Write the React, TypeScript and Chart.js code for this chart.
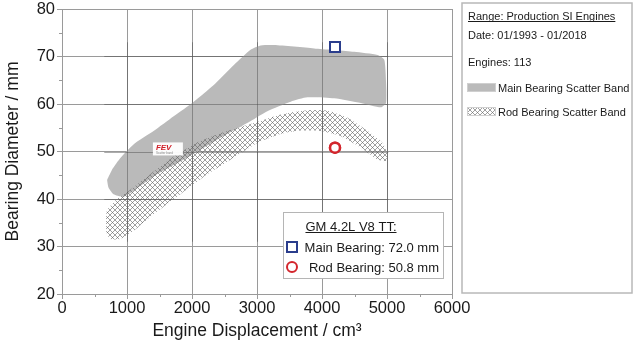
import React, { useEffect, useRef } from 'react';
import { Chart, registerables } from 'chart.js';

Chart.register(...registerables);

const FONT = '"Liberation Sans", Arial, Helvetica, sans-serif';

// ---- data ----
const xTicks = [0, 1000, 2000, 3000, 4000, 5000, 6000];
const yTicks = [20, 30, 40, 50, 60, 70, 80];
const xMinorTicks = [500, 1500, 2500, 3500, 4500, 5500];
const yMinorTicks = [25, 35, 45, 55, 65, 75];

// Main bearing scatter band: upper edge (left→right), lower edge (right→left)
const mainBandUpper: [number, number][] = [
  [694, 44.0], [780, 46.4], [895, 48.6], [1100, 51.5], [1409, 54.3], [1718, 57.4],
  [2026, 60.5], [2335, 64.0], [2644, 68.2], [2901, 71.4], [3056, 72.3], [3260, 72.4],
  [3880, 71.7], [4495, 71.0], [4856, 70.3], [4958, 69.3], [4985, 64.7], [4985, 60.2], [4907, 59.3],
];
const mainBandLower: [number, number][] = [
  [4599, 60.2], [4187, 61.2], [3776, 61.4], [3519, 60.5], [3159, 58.5], [2850, 56.0],
  [2438, 52.9], [1924, 48.7], [1461, 45.2], [1100, 41.7], [946, 40.5], [792, 41.0], [715, 42.4],
];

// Rod bearing scatter band
const rodBandUpper: [number, number][] = [
  [680, 33.0], [689, 37.5], [844, 40.0], [998, 41.4], [1358, 45.2], [1770, 49.4],
  [2130, 52.2], [2541, 54.3], [2952, 56.0], [3364, 57.8], [3776, 58.7], [4084, 58.6],
  [4393, 57.1], [4702, 54.3], [4933, 51.8], [4999, 49.7], [4985, 48.0],
];
const rodBandLower: [number, number][] = [
  [4856, 48.3], [4599, 50.8], [4290, 53.2], [3981, 54.3], [3673, 54.4], [3364, 53.7],
  [3004, 51.8], [2644, 48.7], [2233, 45.2], [1821, 41.0], [1409, 36.8], [1100, 33.3],
  [895, 31.6], [741, 31.6],
];

const engineDisplacement = 4200;
const mainBearingDiameter = 72.0;
const rodBearingDiameter = 50.8;
const logoAnchor: [number, number] = [1460, 51.7];

const xTitle = 'Engine Displacement / cm³';
const yTitle = 'Bearing Diameter / mm';
const infoLines = ['Range: Production SI Engines', 'Date: 01/1993 - 01/2018', 'Engines: 113'];
const bandLabels = ['Main Bearing Scatter Band', 'Rod Bearing Scatter Band'];
const insetTitle = 'GM 4.2L V8 TT:';
const insetLabels = ['Main Bearing: 72.0 mm', 'Rod Bearing: 50.8 mm'];

// ---- styles ----
const GRID = '#9a9a9a';
const GRID_OVER = 'rgba(70,70,70,0.45)';
const TEXT = '#1a1a1a';
const BAND_GRAY = '#bababa';
const BLUE = '#2a3d8c';
const RED = '#d3262d';

function closed(upper: [number, number][], lower: [number, number][]) {
  const pts = [...upper, ...lower, upper[0]];
  return pts.map(([x, y]) => ({ x, y }));
}

function makeHatch(): CanvasPattern | string {
  const p = 5;
  const c = document.createElement('canvas');
  c.width = p; c.height = p;
  const g = c.getContext('2d');
  if (!g) return '#888';
  g.strokeStyle = 'rgba(95,95,95,0.75)';
  g.lineWidth = 0.8;
  g.beginPath();
  for (const k of [-p, 0, p]) {
    g.moveTo(-1 + k, -1); g.lineTo(p + 1 + k, p + 1);
    g.moveTo(-1 + k, p + 1); g.lineTo(p + 1 + k, -1);
  }
  g.stroke();
  const pat = g.createPattern(c, 'repeat');
  return pat || '#888';
}

function underline(ctx: CanvasRenderingContext2D, x1: number, x2: number, y: number, color: string) {
  ctx.save();
  ctx.strokeStyle = color;
  ctx.lineWidth = 1;
  ctx.beginPath();
  ctx.moveTo(x1, y + 0.5);
  ctx.lineTo(x2, y + 0.5);
  ctx.stroke();
  ctx.restore();
}

export default function App() {
  const ref = useRef<HTMLCanvasElement | null>(null);

  useEffect(() => {
    const canvas = ref.current;
    if (!canvas) return;
    const hatch = makeHatch();

    const overlay = {
      id: 'overlay',
      afterDraw(chart: any) {
        const ctx: CanvasRenderingContext2D = chart.ctx;
        const xs = chart.scales.x, ys = chart.scales.y;
        const area = chart.chartArea;

        // grid lines over the scatter bands (only inside the bands' extent)
        ctx.save();
        ctx.strokeStyle = GRID_OVER;
        ctx.lineWidth = 1;
        const bandTop = ys.getPixelForValue(73);
        const bandBottom = ys.getPixelForValue(31);
        const bandLeft = xs.getPixelForValue(650);
        const bandRight = xs.getPixelForValue(5020);
        ctx.beginPath();
        for (const v of xTicks) {
          const px = Math.round(xs.getPixelForValue(v)) + 0.5;
          if (px < bandLeft || px > bandRight) continue;
          ctx.moveTo(px, bandTop);
          ctx.lineTo(px, bandBottom);
        }
        for (const v of yTicks) {
          const py = Math.round(ys.getPixelForValue(v)) + 0.5;
          if (py < bandTop || py > bandBottom) continue;
          ctx.moveTo(bandLeft, py);
          ctx.lineTo(bandRight, py);
        }
        ctx.stroke();
        ctx.restore();

        ctx.save();
        // FEV logo
        const lx = xs.getPixelForValue(logoAnchor[0]);
        const ly = ys.getPixelForValue(logoAnchor[1]);
        ctx.fillStyle = 'rgba(255,255,255,0.95)';
        ctx.fillRect(lx - 4, ly - 1, 30, 13);
        ctx.fillStyle = '#d0202a';
        ctx.font = `italic bold 8px ${FONT}`;
        ctx.textBaseline = 'alphabetic';
        ctx.textAlign = 'left';
        ctx.fillText('FEV', lx - 1, ly + 7);
        ctx.fillStyle = '#888';
        ctx.font = `3px ${FONT}`;
        ctx.fillText('Scatter band', lx - 1, ly + 11);

        // markers on top of grid
        const mx = xs.getPixelForValue(engineDisplacement);
        const my = ys.getPixelForValue(mainBearingDiameter);
        const ry = ys.getPixelForValue(rodBearingDiameter);
        ctx.lineWidth = 2;
        ctx.strokeStyle = BLUE;
        ctx.fillStyle = 'rgba(255,255,255,0.85)';
        ctx.fillRect(mx - 5, my - 5, 10, 10);
        ctx.strokeRect(mx - 5, my - 5, 10, 10);
        ctx.strokeStyle = RED;
        ctx.lineWidth = 2.5;
        ctx.beginPath();
        ctx.arc(mx, ry, 5, 0, Math.PI * 2);
        ctx.fill();
        ctx.stroke();

        // minor ticks
        ctx.strokeStyle = GRID;
        ctx.lineWidth = 1;
        ctx.beginPath();
        for (const v of xMinorTicks) {
          const px = Math.round(xs.getPixelForValue(v)) + 0.5;
          ctx.moveTo(px, area.bottom);
          ctx.lineTo(px, area.bottom + 3);
        }
        for (const v of yMinorTicks) {
          const py = Math.round(ys.getPixelForValue(v)) + 0.5;
          ctx.moveTo(area.left - 3, py);
          ctx.lineTo(area.left, py);
        }
        ctx.stroke();

        // inset legend
        ctx.fillStyle = '#ffffff';
        ctx.fillRect(283, 212, 160, 66);
        ctx.strokeStyle = '#b5b5b5';
        ctx.lineWidth = 1;
        ctx.strokeRect(283.5, 212.5, 160, 66);
        ctx.fillStyle = TEXT;
        ctx.font = `13px ${FONT}`;
        ctx.textBaseline = 'alphabetic';
        ctx.textAlign = 'center';
        ctx.fillText(insetTitle, 351, 231);
        const tw = ctx.measureText(insetTitle).width;
        underline(ctx, 351 - tw / 2, 351 + tw / 2, 232, TEXT);
        ctx.textAlign = 'right';
        ctx.fillText(insetLabels[0], 439, 251.5);
        ctx.fillText(insetLabels[1], 439, 271.5);
        ctx.strokeStyle = BLUE;
        ctx.lineWidth = 2;
        ctx.fillStyle = '#fff';
        ctx.fillRect(287, 242, 10, 10);
        ctx.strokeRect(287, 242, 10, 10);
        ctx.strokeStyle = RED;
        ctx.beginPath();
        ctx.arc(292, 267, 5, 0, Math.PI * 2);
        ctx.stroke();

        // right info box
        ctx.strokeStyle = '#b8b8b8';
        ctx.lineWidth = 1.5;
        ctx.strokeRect(462, 3, 170, 290);
        ctx.fillStyle = TEXT;
        ctx.font = `11px ${FONT}`;
        ctx.textAlign = 'left';
        ctx.fillText(infoLines[0], 468, 20);
        const w0 = ctx.measureText(infoLines[0]).width;
        underline(ctx, 468, 468 + w0, 21, TEXT);
        ctx.fillText(infoLines[1], 468, 39);
        ctx.fillText(infoLines[2], 468, 66);
        ctx.fillStyle = BAND_GRAY;
        ctx.fillRect(467, 83, 29, 9);
        ctx.strokeStyle = '#cfcfcf';
        ctx.lineWidth = 1;
        ctx.strokeRect(467.5, 83.5, 28, 8);
        ctx.fillStyle = hatch as any;
        ctx.fillRect(467, 107, 29, 9);
        ctx.strokeStyle = '#d0d0d0';
        ctx.strokeRect(467.5, 107.5, 28, 8);
        ctx.fillStyle = TEXT;
        ctx.fillText(bandLabels[0], 498, 92);
        ctx.fillText(bandLabels[1], 498, 116);
        ctx.restore();
      },
    };

    const chart = new Chart(canvas, {
      type: 'line',
      data: {
        datasets: [
          {
            label: 'Main Bearing',
            data: [{ x: engineDisplacement, y: mainBearingDiameter }],
            showLine: false,
            pointStyle: 'rect',
            pointRadius: 7,
            pointBorderWidth: 2,
            pointBorderColor: BLUE,
            pointBackgroundColor: 'rgba(255,255,255,0.85)',
            order: 1,
          },
          {
            label: 'Rod Bearing',
            data: [{ x: engineDisplacement, y: rodBearingDiameter }],
            showLine: false,
            pointStyle: 'circle',
            pointRadius: 5,
            pointBorderWidth: 2.5,
            pointBorderColor: RED,
            pointBackgroundColor: 'rgba(255,255,255,0.85)',
            order: 2,
          },
          {
            label: bandLabels[1],
            data: closed(rodBandUpper, rodBandLower),
            showLine: true,
            fill: 'shape',
            backgroundColor: hatch as any,
            borderWidth: 0,
            borderColor: 'rgba(0,0,0,0)',
            pointRadius: 0,
            tension: 0.2,
            order: 3,
          },
          {
            label: bandLabels[0],
            data: closed(mainBandUpper, mainBandLower),
            showLine: true,
            fill: 'shape',
            backgroundColor: BAND_GRAY,
            borderWidth: 0,
            borderColor: 'rgba(0,0,0,0)',
            pointRadius: 0,
            tension: 0.2,
            order: 4,
          },
        ] as any,
      },
      options: {
        animation: false,
        responsive: false,
        events: [],
        layout: { padding: { left: 0, right: 188, top: 7, bottom: 0 } },
        plugins: { legend: { display: false }, tooltip: { enabled: false } },
        scales: {
          x: {
            type: 'linear',
            min: 0,
            max: 6000,
            afterBuildTicks: (s: any) => { s.ticks = xTicks.map((v) => ({ value: v })); },
            afterFit: (s: any) => { s.height = 52; },
            ticks: { color: TEXT, font: { family: FONT, size: 16.5 }, padding: 0, maxRotation: 0, callback: (v: any) => String(v) },
            grid: { color: GRID, tickLength: 5, drawTicks: true },
            border: { color: GRID },
            title: {
              display: true, text: xTitle, color: TEXT,
              font: { family: FONT, size: 17.5 }, padding: { top: 0, bottom: 4 },
            },
          },
          y: {
            type: 'linear',
            min: 20,
            max: 80,
            afterBuildTicks: (s: any) => { s.ticks = yTicks.map((v) => ({ value: v })); },
            afterFit: (s: any) => { s.width = 62; s.paddingTop = 0; s.paddingBottom = 0; },
            ticks: { color: TEXT, font: { family: FONT, size: 16.5 }, padding: 2, callback: (v: any) => String(v) },
            grid: { color: GRID, tickLength: 5, drawTicks: true },
            border: { color: GRID },
            title: {
              display: true, text: yTitle, color: TEXT,
              font: { family: FONT, size: 17.5 }, padding: { top: 2.5, bottom: 0 },
            },
          },
        },
      } as any,
      plugins: [overlay],
    });
    return () => chart.destroy();
  }, []);

  return (
    <div style={{ position: 'absolute', left: 0, top: 0, width: 640, height: 346, background: '#fff' }}>
      <canvas ref={ref} width={640} height={346} style={{ display: 'block' }} />
    </div>
  );
}
